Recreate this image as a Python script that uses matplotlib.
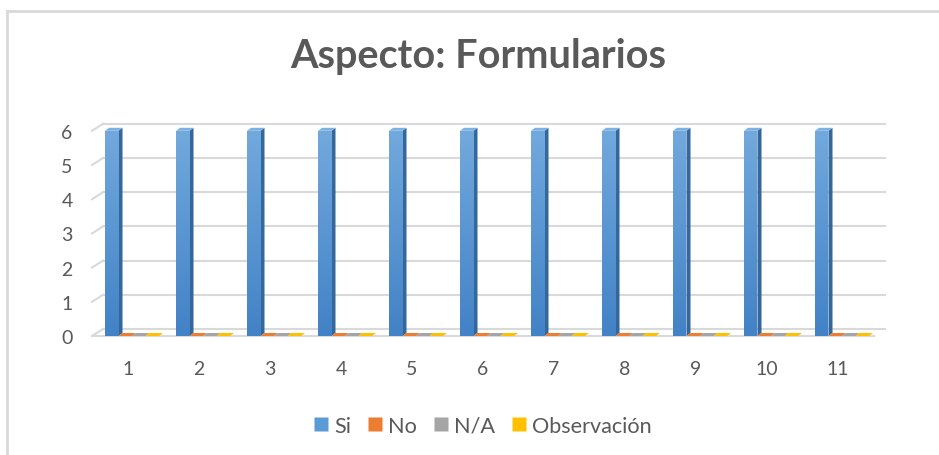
import numpy as np
from matplotlib import pyplot as plt
from matplotlib.patches import Polygon
from matplotlib.lines import Line2D
from matplotlib.colors import LinearSegmentedColormap

categories = ['1', '2', '3', '4', '5', '6', '7', '8', '9', '10', '11']
series_names = ['Si', 'No', 'N/A', 'Observación']
si = [6, 6, 6, 6, 6, 6, 6, 6, 6, 6, 6]
no = [0, 0, 0, 0, 0, 0, 0, 0, 0, 0, 0]
na = [0, 0, 0, 0, 0, 0, 0, 0, 0, 0, 0]
obs = [0, 0, 0, 0, 0, 0, 0, 0, 0, 0, 0]

front_colors = ['#5B9BD5', '#ED7D31', '#A5A5A5', '#FFC000']
grad_colors = [('#4282C6', '#72A9DD'), ('#D96A1E', '#F2914E'),
               ('#8F8F8F', '#B4B4B4'), ('#E6AC00', '#FFC93A')]
side_colors = ['#34679A', '#B45A1E', '#7A7A7A', '#C29100']
top_colors = ['#7DB1E2', '#C8652A', '#8C8C8C', '#D9A300']
text_color = '#595959'
grid_color = '#D9D9D9'

plt.rcParams['font.family'] = ['Lato', 'DejaVu Sans']

W, H = 939, 456
fig = plt.figure(figsize=(W / 100, H / 100), dpi=100)

# axes placed in pixels
left, right, bottom_px, top_px = 92, 885, 337, 116
ax = fig.add_axes([left / W, 1 - bottom_px / H, (right - left) / W, (bottom_px - top_px) / H])
px_x = 71.0
px_y = 34.2
xmin = 1 - (128 - left) / px_x
xmax = 11 + (right - 838) / px_x
ymax = (bottom_px - top_px) / px_y
for s in ax.spines.values():
    s.set_visible(False)
ax.set_facecolor('none')

x = np.arange(1, len(categories) + 1)

# back wall offset / bar depth offset (data units)
bdx, bdy = 11 / px_x, 7 / px_y
ddx, ddy = 4 / px_x, 3 / px_y

# gridlines on back wall + slanted stubs
for yv in range(0, 7):
    ax.plot([xmin + bdx, xmax], [yv + bdy, yv + bdy], color=grid_color, lw=1.5, zorder=1, clip_on=False)
    ax.plot([xmin, xmin + bdx], [yv, yv + bdy], color=grid_color, lw=1.5, zorder=1, clip_on=False)
# floor front edge
ax.plot([xmin, xmax - bdx], [0, 0], color=grid_color, lw=1.5, zorder=1, clip_on=False)

grad = np.linspace(0, 1, 64).reshape(-1, 1)
w = 13.5 / px_x
start = (105 - 128) / px_x
all_vals = [si, no, na, obs]
for k, vals in enumerate(all_vals):
    cmap = LinearSegmentedColormap.from_list(f'g{k}', grad_colors[k])
    for i, v in enumerate(vals):
        x0 = x[i] + start + k * w
        if v > 0:
            face = Polygon([(x0, 0), (x0 + w, 0), (x0 + w, v), (x0, v)],
                           closed=True, fc=front_colors[k], ec='none', zorder=3)
            ax.add_patch(face)
            im = ax.imshow(grad, cmap=cmap, origin='lower', aspect='auto',
                           extent=(x0, x0 + w, 0, v), zorder=3.1, interpolation='bilinear')
            im.set_clip_path(face)
            ax.add_patch(Polygon([(x0 + w, 0), (x0 + w + ddx, ddy), (x0 + w + ddx, v + ddy), (x0 + w, v)],
                                 closed=True, fc=side_colors[k], ec='none', zorder=3))
        ax.add_patch(Polygon([(x0, v), (x0 + w, v), (x0 + w + ddx, v + ddy), (x0 + ddx, v + ddy)],
                             closed=True, fc=top_colors[k] if v > 0 else front_colors[k],
                             ec='none', zorder=4))
ax.set_xlim(xmin, xmax)
ax.set_ylim(0, ymax)

ax.set_xticks(x)
ax.set_xticklabels(categories)
ax.set_yticks(range(0, 7))
ax.tick_params(axis='both', length=0, labelsize=14, colors=text_color)
ax.tick_params(axis='y', pad=14)
ax.tick_params(axis='x', pad=17)

fig.text(478 / W, 1 - 68 / H, 'Aspecto: Formularios', ha='center', va='baseline',
         fontsize=28.5, fontweight='bold', color=text_color)

handles = [Line2D([0], [0], marker='s', linestyle='none', markersize=9.5,
                  markerfacecolor=c, markeredgecolor='none') for c in front_colors]
fig.legend(handles, series_names, loc='center', bbox_to_anchor=(483 / W, 1 - 427 / H),
           ncol=4, frameon=False, fontsize=15.6, labelcolor=text_color,
           handletextpad=0.3, columnspacing=0.8, handlelength=0.6)

# chart area border (only top and left visible)
fig.add_artist(Line2D([6.5 / W, 1], [1 - 11.5 / H, 1 - 11.5 / H], color=grid_color, lw=2))
fig.add_artist(Line2D([6.5 / W, 6.5 / W], [0, 1 - 11.5 / H], color=grid_color, lw=2))

fig.savefig('out.png', dpi=100)
